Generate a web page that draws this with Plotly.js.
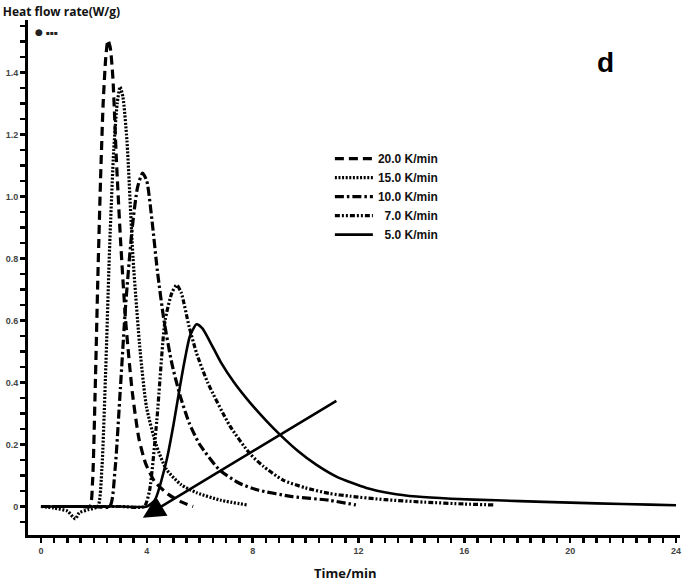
<!DOCTYPE html>
<html>
<head>
<meta charset="utf-8">
<script src="https://cdn.plot.ly/plotly-3.0.1.min.js"></script>
<style>html,body{margin:0;padding:0;background:#fff;}#chart{width:685px;height:585px;}</style>
</head>
<body>
<div id="chart"></div>
<script>
// ---- data (time in min, heat flow in W/g) ----
const seriesNames = ["20.0 K/min", "15.0 K/min", "10.0 K/min", "\u20077.0 K/min", "\u20075.0 K/min"];

const t20 = [0,0.5,1.0,1.5,1.85,1.95,2.05,2.15,2.25,2.35,2.45,2.53,2.62,2.72,2.85,3.0,3.2,3.45,3.7,3.95,4.3,4.8,5.3,5.75];
const v20 = [0,0,0,0,0,0.08,0.38,0.74,1.05,1.3,1.45,1.505,1.48,1.38,1.12,0.87,0.6,0.37,0.22,0.14,0.08,0.04,0.015,0];

const t15 = [0,0.5,1.0,1.3,1.45,1.8,2.15,2.3,2.45,2.6,2.75,2.88,2.99,3.1,3.25,3.48,3.75,3.99,4.35,4.74,5.3,5.9,6.8,7.8];
const v15 = [0,-0.005,-0.015,-0.04,-0.02,-0.01,0,0.12,0.45,0.85,1.15,1.3,1.354,1.32,1.18,0.8,0.5,0.32,0.2,0.12,0.07,0.044,0.02,0.005];

const t10 = [0,1,2,2.6,2.8,3.0,3.2,3.45,3.65,3.84,4.0,4.2,4.4,4.65,4.95,5.25,5.6,6.0,6.76,7.5,8.16,9.5,10.9,11.9];
const v10 = [0,0,0,0,0.12,0.38,0.65,0.9,1.03,1.076,1.05,0.92,0.76,0.6,0.46,0.36,0.27,0.2,0.117,0.075,0.054,0.032,0.02,0.005];

const t7 = [0,1,2,3,3.9,4.1,4.38,4.69,4.95,5.13,5.3,5.6,5.88,6.3,7.14,7.9,8.4,9.15,10,10.9,11.7,13,14.5,16,17.1];
const v7 = [0,0,0,0,0,0.05,0.28,0.6,0.69,0.715,0.69,0.58,0.495,0.4,0.26,0.17,0.13,0.085,0.06,0.042,0.033,0.022,0.014,0.008,0.005];

const t5 = [0,1,2,3,4,4.3,4.75,5.0,5.25,5.45,5.63,5.88,6.1,6.4,6.8,7.3,7.9,8.5,9.03,9.7,10.4,11.2,12.3,13.2,14.2,15.5,17.2,19,21,23,24];
const v5 = [0,0,0,0,0,0.02,0.15,0.26,0.386,0.48,0.55,0.588,0.575,0.53,0.465,0.4,0.335,0.278,0.232,0.18,0.135,0.095,0.06,0.043,0.032,0.025,0.02,0.015,0.01,0.006,0.004];

const yTickVals = [0,0.2,0.4,0.6,0.8,1.0,1.2,1.4];
const yTickText = ["0","0.2","0.4","0.6","0.8","1.0","1.2","1.4"];
const xTickVals = [0,4,8,12,16,20,24];

// arrow: head and tail in data units
const arrowHead = [3.85, -0.036];
const arrowTail = [11.22, 0.344];

const seriesT = [t20, t15, t10, t7, t5];
const seriesV = [v20, v15, v10, v7, v5];
const dashes = ["9px,5px", "2px,1.6px", "9px,3px,2.5px,3px", "5px,2px,2px,2px,2px,2px", "solid"];
const widths = [3.2, 3.2, 3.2, 3.2, 2.6];

const traces = seriesNames.map((n, i) => ({
  type: "scatter", mode: "lines", name: n,
  x: seriesT[i], y: seriesV[i],
  legendgroup: "g" + i,
  line: {color: "#000", width: widths[i], dash: dashes[i], shape: "spline", smoothing: 0.6}
}));

const tickFont = {family: "Liberation Sans, Arial, sans-serif", size: 9, color: "#444", weight: "bold"};

const layout = {
  width: 685, height: 585,
  margin: {l: 28, r: 5, t: 20, b: 50},
  paper_bgcolor: "#fff", plot_bgcolor: "#fff",
  title: {text: "<b>Heat flow rate(W/g)</b>", x: 0.004, xref: "container", xanchor: "left",
          y: 1 - 12/585, yref: "container", yanchor: "middle",
          font: {family: "Open Sans, Liberation Sans, sans-serif", size: 12, color: "#111"}},
  xaxis: {
    range: [-0.49, 24.15], showgrid: false, zeroline: false,
    showline: true, linewidth: 3, linecolor: "#000",
    tickmode: "array", tickvals: xTickVals,
    ticks: "outside", ticklen: 5, tickwidth: 2.5, tickcolor: "#000",
    minor: {dtick: 0.5, tick0: 0, ticks: "outside", ticklen: 5, tickwidth: 2.5, tickcolor: "#000", showgrid: false},
    tickfont: tickFont
  },
  yaxis: {
    range: [-0.092, 1.57], showgrid: false, zeroline: false,
    showline: true, linewidth: 3, linecolor: "#000",
    tickmode: "array", tickvals: yTickVals, ticktext: yTickText,
    ticks: "outside", ticklen: 5, tickwidth: 2.5, tickcolor: "#000",
    minor: {dtick: 0.05, tick0: 0, ticks: "outside", ticklen: 5, tickwidth: 2.5, tickcolor: "#000", showgrid: false},
    tickfont: tickFont
  },
  showlegend: true,
  legend: {
    x: 0.463, xanchor: "left", y: 0.759, yanchor: "top",
    bgcolor: "rgba(0,0,0,0)", borderwidth: 0,
    itemwidth: 38, tracegroupgap: 2, traceorder: "normal",
    font: {family: "Liberation Sans, Arial, sans-serif", size: 12, color: "#111", weight: "bold"}
  },
  annotations: [
    {xref: "paper", yref: "paper", x: (345-28)/652, y: -(573-535)/515, xanchor: "center", yanchor: "middle",
     text: "<b>Time/min</b>", showarrow: false,
     font: {family: "Open Sans, Liberation Sans, sans-serif", size: 13, color: "#111"}},
    {xref: "paper", yref: "paper", x: (605-28)/652, y: (535-62)/515, xanchor: "center", yanchor: "middle",
     text: "<b>d</b>", showarrow: false,
     font: {family: "Liberation Sans, Arial, sans-serif", size: 28, color: "#000"}},
    {xref: "paper", yref: "paper", x: (33-28)/652, y: (535-32)/515, xanchor: "left", yanchor: "middle",
     text: "<b>\u25CF</b> <span style='font-size:6px'>\u25AA\u25AA\u25AA</span>", showarrow: false,
     font: {family: "DejaVu Sans, sans-serif", size: 9, color: "#222"}},
    {x: arrowHead[0], y: arrowHead[1], xref: "x", yref: "y",
     ax: arrowTail[0], ay: arrowTail[1], axref: "x", ayref: "y",
     showarrow: true, arrowhead: 2, arrowsize: 1.7, arrowwidth: 2.6, arrowcolor: "#000", text: ""}
  ]
};

Plotly.newPlot("chart", traces, layout, {displayModeBar: false, staticPlot: true});
</script>
</body>
</html>
